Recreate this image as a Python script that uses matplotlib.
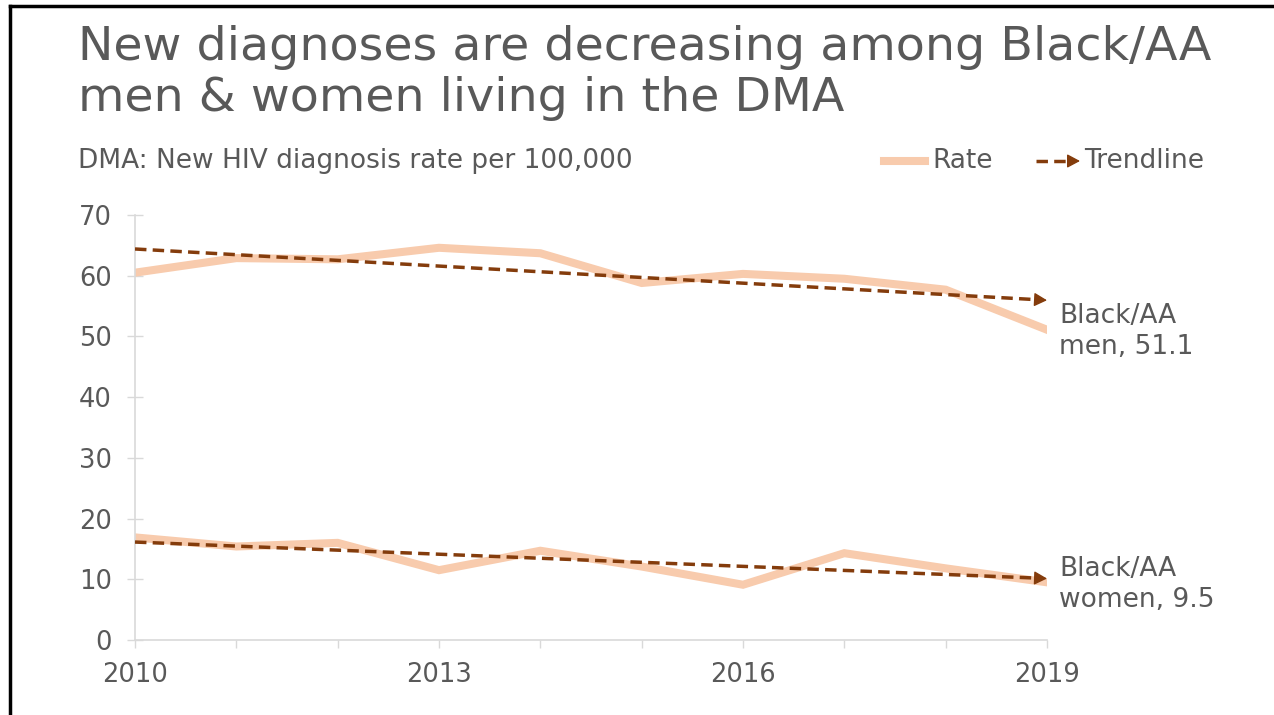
import numpy as np
import matplotlib.pyplot as plt
from matplotlib.lines import Line2D

plt.rcParams['font.family'] = ['DejaVu Sans']

years = np.arange(2010, 2020)
men = [60.5, 62.9, 62.7, 64.6, 63.7, 58.8, 60.3, 59.5, 57.7, 51.1]
women = [16.9, 15.4, 16.0, 11.5, 14.7, 12.1, 9.1, 14.3, 11.8, 9.5]
labels = ['Black/AA\nmen, 51.1', 'Black/AA\nwomen, 9.5']
xticklabels = ['2010', '', '', '2013', '', '', '2016', '', '', '2019']

rate_col = '#F8CBAD'
trend_col = '#843C0C'
txt = '#595959'
axis_col = '#D9D9D9'

W, H = 1274, 715
fig = plt.figure(figsize=(W / 100, H / 100), dpi=100)
ax = fig.add_axes([135 / W, 1 - 640 / H, (1047 - 135) / W, (640 - 215) / H])


def trend_arrow(x0, y0, x1, y1, xycoords):
    ax.annotate('', xy=(x1, y1), xytext=(x0, y0), xycoords=xycoords,
                textcoords=xycoords,
                arrowprops=dict(arrowstyle='-|>,head_length=0.6,head_width=0.32',
                                color=trend_col, lw=1, shrinkA=0, shrinkB=0,
                                mutation_scale=13),
                annotation_clip=False)


for vals, lab in zip([men, women], labels):
    ax.plot(years, vals, color=rate_col, lw=5.8, solid_joinstyle='miter', zorder=2)
    k, b = np.polyfit(years, vals, 1)
    fit = k * years + b
    ax.plot(years[0:-1].tolist() + [years[-1] - 0.06],
            fit[0:-1].tolist() + [k * (years[-1] - 0.06) + b],
            color=trend_col, lw=2.5, dashes=(3.3, 1.8), zorder=3)
    trend_arrow(years[-1] - 0.08, k * (years[-1] - 0.08) + b, years[-1], fit[-1], 'data')
    ax.annotate(lab, xy=(years[-1], vals[-1]), xytext=(12, -2),
                textcoords='offset pixels', va='center', ha='left',
                fontsize=19, color=txt, linespacing=1.25, annotation_clip=False)

ax.set_xlim(2010, 2019)
ax.set_ylim(0, 70)
ax.set_xticks(years)
ax.set_xticklabels(xticklabels)
ax.set_yticks(range(0, 71, 10))
for s in ['top', 'right']:
    ax.spines[s].set_visible(False)
for s in ['left', 'bottom']:
    ax.spines[s].set_color(axis_col)
    ax.spines[s].set_linewidth(1.2)
ax.tick_params(axis='y', direction='inout', length=11, width=1, color=axis_col,
               labelsize=18.5, labelcolor=txt, pad=11)
ax.tick_params(axis='x', direction='out', length=6, width=1, color=axis_col,
               labelsize=18.5, labelcolor=txt, pad=10)

# headline and subtitle
fig.text(78 / W, 1 - 25 / H, 'New diagnoses are decreasing among Black/AA\nmen & women living in the DMA',
         fontsize=34.2, color=txt, va='top', ha='left', linespacing=1.18)
fig.text(78 / W, 1 - 161 / H, 'DMA: New HIV diagnosis rate per 100,000',
         fontsize=19, color=txt, va='center', ha='left')

# legend drawn by hand
ly = 1 - 161 / H
fig.add_artist(Line2D([884 / W, 925 / W], [ly, ly], color=rate_col, lw=5.8))
fig.text(932 / W, ly, 'Rate', fontsize=19, color=txt, va='center', ha='left')
fig.add_artist(Line2D([1036 / W, 1070 / W], [ly, ly], color=trend_col, lw=2.5,
                      dashes=(3.3, 1.8)))
trend_arrow(1068 / W, ly, 1080 / W, ly, 'figure fraction')
fig.text(1084 / W, ly, 'Trendline', fontsize=19, color=txt, va='center', ha='left')

# slide frame
fig.add_artist(Line2D([10 / W, 1], [1 - 6 / H, 1 - 6 / H], color='black', lw=2.5))
fig.add_artist(Line2D([10 / W, 10 / W], [0, 1 - 6 / H], color='black', lw=2.5))

fig.savefig('out.png', dpi=100)
